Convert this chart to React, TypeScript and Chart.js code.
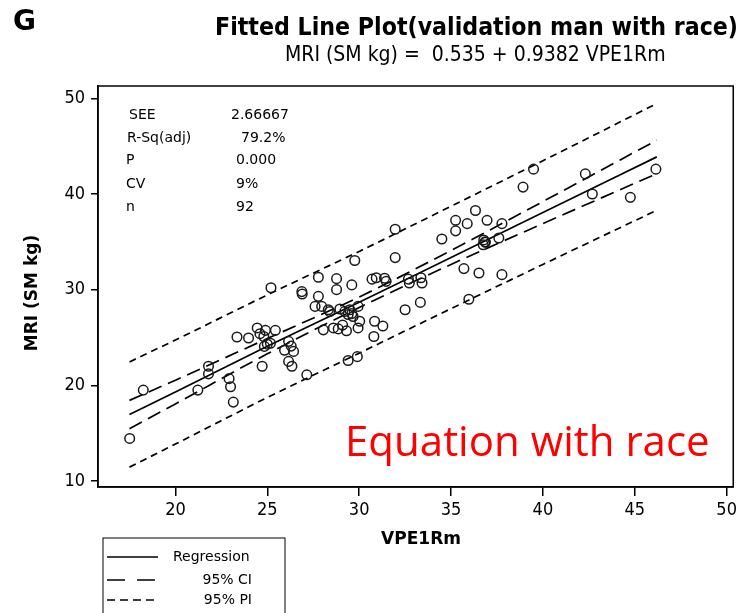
import React, { useEffect, useRef } from "react";
import { Chart, registerables } from "chart.js";

Chart.register(...registerables);

// Observed points (VPE1Rm, MRI SM kg)
const vpeX = [
  17.51, 18.25, 21.22, 21.8, 21.8, 22.92, 23.0, 23.15, 23.35, 23.98,
  24.45, 24.9, 24.72, 24.81, 25.17, 24.84, 25.44, 25.2, 26.16, 25.94,
  26.43, 26.16, 26.34, 27.15, 27.6, 27.96, 26.88, 26.9, 27.78, 27.78,
  28.77, 28.77, 29.6, 29.76, 28.32, 28.95, 29.22, 29.49, 29.94, 29.4,
  29.67, 30.03, 29.94, 30.84, 31.29, 30.8, 28.05, 28.6, 28.86, 29.31,
  29.4, 29.9, 30.7, 30.93, 31.38, 31.47, 32.68, 32.73, 33.36, 33.42,
  33.33, 32.5, 31.96, 31.96, 34.5, 35.25, 35.25, 35.88, 36.33, 36.96,
  37.77, 36.78, 36.87, 36.75, 37.6, 35.7, 36.52, 37.77, 35.97, 38.92,
  39.49, 42.31, 42.69, 44.76, 46.15, 25.0, 28.4, 29.6, 29.1, 36.85,
  26.3, 24.6,
];
const mriY = [
  14.45, 19.5, 19.5, 22.0, 21.2, 20.7, 19.85, 18.25, 25.05, 24.95,
  26.0, 25.75, 22.0, 25.1, 24.4, 24.07, 25.75, 30.2, 24.6, 23.66,
  23.55, 22.5, 22.0, 21.1, 28.25, 28.25, 29.8, 29.55, 29.3, 31.3,
  31.15, 30.0, 30.5, 33.05, 27.9, 27.98, 27.73, 27.9, 28.25, 27.4,
  27.2, 26.7, 26.0, 26.7, 26.2, 25.1, 25.8, 26.0, 25.9, 25.7,
  22.6, 23.0, 31.1, 31.25, 31.2, 30.87, 31.1, 30.7, 31.25, 30.7,
  28.67, 27.9, 36.32, 33.35, 35.3, 36.15, 37.25, 36.9, 38.28, 37.25,
  36.9, 35.2, 34.95, 34.7, 35.4, 32.2, 31.74, 31.57, 29.0, 40.72,
  42.6, 42.1, 40.0, 39.65, 42.6, 24.3, 27.7, 27.5, 26.3, 35.0,
  24.1, 25.4,
];

// Fitted line and bands, read at these x positions
const fitX = [17.5, 20, 25, 30, 35, 40, 46.2];
const regY = [16.95, 19.3, 24.09, 28.68, 33.37, 38.06, 43.88];
const ciUpper = [18.43, 20.54, 24.89, 29.23, 34.1, 39.21, 45.63];
const ciLower = [15.47, 18.06, 23.29, 28.13, 32.64, 36.91, 42.13];
const piUpper = [22.45, 24.74, 29.45, 34.0, 38.72, 43.48, 49.46];
const piLower = [11.45, 13.86, 18.73, 23.36, 28.02, 32.64, 38.3];

const xTicks = [20, 25, 30, 35, 40, 45, 50];
const yTicks = [10, 20, 30, 40, 50];

const statLabels = ["SEE", "R-Sq(adj)", "P", "CV", "n"];
const statValues = ["2.66667", "79.2%", "0.000", "9%", "92"];

const legendLabels = ["Regression", "95% CI", "95% PI"];

const COND = "'DejaVu Sans Condensed', 'DejaVu Sans', sans-serif";
const SANS = "'DejaVu Sans', sans-serif";

const pairs = (xs: number[], ys: number[]) => xs.map((x, i) => ({ x, y: ys[i] }));

const CI_DASH = [14, 7];
const PI_DASH = [7, 5];

const overlay = {
  id: "overlay",
  afterDraw(chart: any) {
    const ctx: CanvasRenderingContext2D = chart.ctx;
    const a = chart.chartArea;
    ctx.save();
    // frame
    ctx.strokeStyle = "#000";
    ctx.lineWidth = 1.5;
    ctx.setLineDash([]);
    ctx.strokeRect(a.left, a.top, a.right - a.left, a.bottom - a.top);

    const text = (
      s: string,
      x: number,
      y: number,
      font: string,
      align: CanvasTextAlign,
      maxW?: number,
      color = "#000"
    ) => {
      ctx.font = font;
      ctx.fillStyle = color;
      ctx.textAlign = align;
      ctx.textBaseline = "middle";
      if (maxW) ctx.fillText(s, x, y, maxW);
      else ctx.fillText(s, x, y);
    };

    // Panel letter
    text("G", 13, 23, `bold 28px ${SANS}`, "left");
    // Title & subtitle
    text("Fitted Line Plot(validation man with race)", 215, 28, `bold 25px ${COND}`, "left", 523);
    text("MRI (SM kg) =  0.535 + 0.9382 VPE1Rm", 285, 56, `21px ${COND}`, "left", 390);

    // Stats
    const rowsY = [115, 138, 160, 184, 207];
    const labX = [129, 127, 126, 126, 126];
    const valX = [231, 241, 236, 236, 236];
    statLabels.forEach((l, i) => {
      text(l, labX[i], rowsY[i], `14px ${SANS}`, "left");
      text(statValues[i], valX[i], rowsY[i], `14px ${SANS}`, "left");
    });

    // Axis titles
    text("VPE1Rm", 421, 540, `bold 17px ${SANS}`, "center", 87);
    ctx.save();
    ctx.translate(33, 293);
    ctx.rotate(-Math.PI / 2);
    text("MRI (SM kg)", 0, 0, `bold 17px ${SANS}`, "center", 123);
    ctx.restore();

    // Red annotation
    text("Equation with race", 345, 444, `42px 'Open Sans', 'Noto Sans', sans-serif`, "left", 365, "#ff0000");

    // Legend box
    ctx.strokeStyle = "#000";
    ctx.lineWidth = 1;
    ctx.setLineDash([]);
    ctx.strokeRect(103, 538, 182, 90);
    const legY = [557, 580, 600];
    const dashes = [[], [18, 12], [8, 5]];
    legendLabels.forEach((l, i) => {
      ctx.beginPath();
      ctx.setLineDash(dashes[i]);
      ctx.lineWidth = 1.5;
      ctx.moveTo(107, legY[i]);
      ctx.lineTo(158, legY[i]);
      ctx.stroke();
      ctx.setLineDash([]);
      if (i === 0) text(l, 173, legY[i], `14px ${SANS}`, "left");
      else text(l, 252, legY[i], `14px ${SANS}`, "right");
    });
    ctx.restore();
  },
};

export default function App() {
  const ref = useRef<HTMLCanvasElement | null>(null);

  useEffect(() => {
    if (!ref.current) return;
    const lineDs = (data: number[], dash: number[]) => ({
      type: "line" as const,
      data: pairs(fitX, data),
      showLine: true,
      borderColor: "#000",
      borderWidth: 1.7,
      borderDash: dash,
      pointRadius: 0,
      fill: false,
      tension: 0.4,
      cubicInterpolationMode: "monotone" as const,
    });
    const chart = new Chart(ref.current, {
      type: "scatter",
      data: {
        datasets: [
          {
            type: "scatter",
            data: pairs(vpeX, mriY),
            pointStyle: "circle",
            pointRadius: 4.8,
            borderWidth: 1.5,
            borderColor: "#1a1a1a",
            backgroundColor: "rgba(0,0,0,0)",
            order: 0,
          } as any,
          { ...lineDs(regY, []), order: 1 },
          { ...lineDs(ciUpper, CI_DASH), order: 2 },
          { ...lineDs(ciLower, CI_DASH), order: 2 },
          { ...lineDs(piUpper, PI_DASH), order: 3 },
          { ...lineDs(piLower, PI_DASH), order: 3 },
        ],
      },
      options: {
        responsive: false,
        animation: false,
        devicePixelRatio: 1,
        layout: { padding: { left: 0, top: 86, right: 3, bottom: 0 } },
        plugins: {
          legend: { display: false },
          tooltip: { enabled: false },
          title: { display: false },
        },
        scales: {
          x: {
            type: "linear",
            min: 15.786,
            max: 50.36,
            afterFit: (s: any) => {
              s.height = 126;
            },
            afterBuildTicks: (s: any) => {
              s.ticks = xTicks.map((v) => ({ value: v }));
            },
            ticks: {
              color: "#000",
              font: { family: COND, size: 18 },
              padding: 4,
              maxRotation: 0,
              autoSkip: false,
            },
            grid: {
              drawOnChartArea: false,
              drawTicks: true,
              tickLength: 9,
              color: "#000",
              lineWidth: 1.5,
            },
            border: { display: true, color: "#000", width: 1.5 },
          },
          y: {
            type: "linear",
            min: 9.373,
            max: 51.29,
            afterFit: (s: any) => {
              s.width = 98;
            },
            afterBuildTicks: (s: any) => {
              s.ticks = yTicks.map((v) => ({ value: v }));
            },
            ticks: {
              color: "#000",
              font: { family: COND, size: 18 },
              padding: 6,
              autoSkip: false,
            },
            grid: {
              drawOnChartArea: false,
              drawTicks: true,
              tickLength: 7,
              color: "#000",
              lineWidth: 1.5,
            },
            border: { display: true, color: "#000", width: 1.5 },
          },
        },
      },
      plugins: [overlay],
    });
    return () => chart.destroy();
  }, []);

  return (
    <div style={{ position: "absolute", left: 0, top: 0, width: 741, height: 613, background: "#fff" }}>
      <canvas ref={ref} width={741} height={613} style={{ display: "block" }} />
    </div>
  );
}
